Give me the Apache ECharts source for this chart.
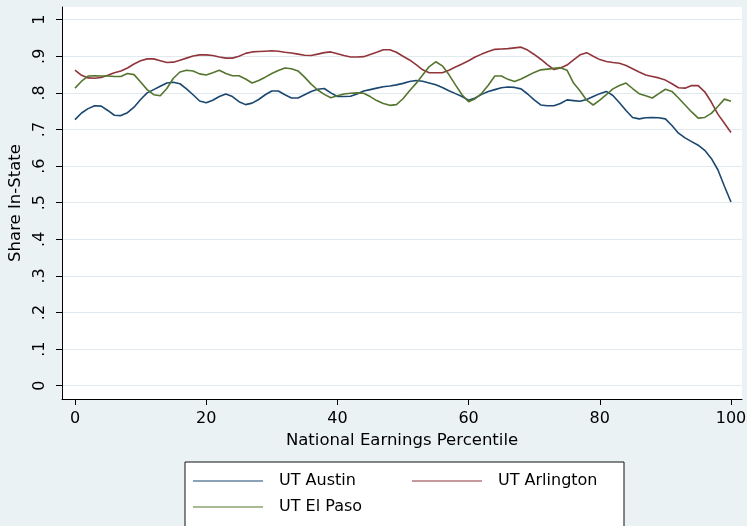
<!DOCTYPE html>
<html>
<head>
<meta charset="utf-8">
<script src="https://cdn.jsdelivr.net/npm/echarts@6/dist/echarts.min.js"></script>
<style>
  html, body { margin: 0; padding: 0; background: #eaf2f3; }
  #chart { width: 747px; height: 526px; }
</style>
</head>
<body>
<div id="chart"></div>
<script>
// National earnings percentile, 0..100
const percentiles = Array.from({ length: 101 }, (_, i) => i);

// Share of graduates staying in-state, by percentile
const utAustin = [
  .727, .745, .757, .765, .764, .752, .739, .738, .746, .761,
  .782, .800, .809, .818, .827, .829, .825, .811, .795, .778,
  .773, .780, .790, .797, .790, .776, .768, .772, .782, .795,
  .805, .805, .795, .786, .786, .795, .804, .810, .812, .800,
  .790, .790, .791, .797, .805, .809, .813, .817, .819, .822,
  .826, .831, .834, .832, .827, .822, .815, .806, .798, .790,
  .780, .786, .796, .804, .809, .814, .816, .815, .811, .797,
  .781, .767, .765, .765, .771, .781, .779, .777, .782, .790,
  .798, .804, .793, .773, .752, .733, .729, .732, .733, .732,
  .729, .711, .690, .677, .667, .657, .643, .621, .590, .545,
  .502
];

const utArlington = [
  .862, .848, .841, .840, .842, .848, .855, .860, .868, .879,
  .888, .893, .893, .888, .883, .884, .889, .895, .901, .904,
  .904, .902, .898, .895, .895, .900, .908, .912, .913, .914,
  .915, .914, .911, .909, .906, .903, .902, .906, .910, .912,
  .907, .902, .898, .898, .899, .905, .911, .918, .918, .911,
  .900, .890, .877, .863, .855, .855, .855, .862, .871, .879,
  .888, .898, .906, .913, .919, .920, .921, .923, .925, .917,
  .905, .892, .877, .864, .868, .876, .890, .904, .910, .900,
  .891, .886, .883, .881, .875, .866, .857, .849, .845, .841,
  .835, .825, .814, .813, .820, .820, .803, .775, .742, .717,
  .692
];

const utElPaso = [
  .813, .832, .846, .847, .846, .846, .845, .845, .853, .850,
  .830, .809, .795, .792, .812, .840, .857, .862, .860, .852,
  .849, .855, .862, .853, .847, .847, .838, .827, .834, .843,
  .853, .861, .868, .866, .860, .843, .824, .808, .796, .787,
  .792, .797, .799, .800, .799, .790, .779, .771, .766, .768,
  .784, .806, .826, .849, .872, .885, .874, .850, .822, .795,
  .776, .784, .799, .821, .846, .846, .837, .831, .838, .847,
  .856, .863, .865, .867, .869, .862, .827, .805, .780, .767,
  .780, .795, .811, .820, .827, .812, .798, .792, .786, .798,
  .810, .804, .786, .767, .748, .731, .733, .744, .763, .783,
  .777
];

// Tick positions
const xTicks = [0, 20, 40, 60, 80, 100];
const yTicks = [0, 0.1, 0.2, 0.3, 0.4, 0.5, 0.6, 0.7, 0.8, 0.9, 1];

const pairs = (vals) => percentiles.map((p, i) => [p, vals[i]]);

const font = 'DejaVu Sans, sans-serif';
const axisColor = '#000';

const chart = echarts.init(document.getElementById('chart'), null, { renderer: 'canvas' });

chart.setOption({
  backgroundColor: '#eaf2f3',
  animation: false,
  textStyle: { fontFamily: font },
  grid: {
    left: 62, top: 7, width: 680, height: 392,
    show: true, backgroundColor: '#ffffff', borderWidth: 0,
    containLabel: false,
    outerBoundsMode: 'none'
  },
  xAxis: {
    type: 'value',
    min: -1.98, max: 101.68,
    name: 'National Earnings Percentile',
    nameLocation: 'middle',
    nameGap: 29,
    nameTextStyle: { fontSize: 16.5, color: '#000', fontFamily: font },
    axisLine: { show: true, onZero: false, lineStyle: { color: axisColor, width: 1 } },
    axisTick: { show: true, length: 6, customValues: xTicks, lineStyle: { color: axisColor } },
    axisLabel: { customValues: xTicks, margin: 12, fontSize: 16, color: '#000', fontFamily: font },
    splitLine: { show: false }
  },
  yAxis: {
    type: 'value',
    min: -0.0363, max: 1.0347,
    name: 'Share In-State',
    nameLocation: 'middle',
    nameGap: 33,
    nameRotate: 90,
    nameTextStyle: { fontSize: 16.5, color: '#000', fontFamily: font },
    axisLine: { show: true, onZero: false, lineStyle: { color: axisColor, width: 1 } },
    axisTick: { show: true, length: 6, customValues: yTicks, lineStyle: { color: axisColor } },
    axisLabel: {
      customValues: yTicks,
      rotate: 90,
      margin: 14,
      fontSize: 16,
      color: '#000',
      fontFamily: font,
      formatter: (v) => {
        const r = Math.round(v * 10) / 10;
        if (r === 0) return '0';
        if (r === 1) return '1';
        return '.' + Math.round(r * 10);
      }
    },
    splitLine: { show: true, lineStyle: { color: '#e1eaee', width: 1 } }
  },
  legend: {
    left: 185, top: 462,
    orient: 'horizontal',
    width: 428,
    backgroundColor: '#ffffff',
    borderColor: '#111',
    borderWidth: 1,
    borderRadius: 0,
    padding: [11, 3, 30, 8],
    itemWidth: 70,
    itemHeight: 14,
    itemGap: 10,
    icon: 'path://M0,6.5L70,6.5L70,7.5L0,7.5Z',
    textStyle: { fontSize: 16, color: '#000', fontFamily: font, width: 123, lineHeight: 16, padding: [0, 0, 0, 11] },
    data: ['UT Austin', 'UT Arlington', 'UT El Paso']
  },
  series: [
    {
      name: 'UT Austin', type: 'line', data: pairs(utAustin),
      showSymbol: false, symbol: 'none', smooth: false,
      lineStyle: { color: '#1a476f', width: 1.6 }, itemStyle: { color: '#1a476f' }
    },
    {
      name: 'UT Arlington', type: 'line', data: pairs(utArlington),
      showSymbol: false, symbol: 'none', smooth: false,
      lineStyle: { color: '#90353b', width: 1.6 }, itemStyle: { color: '#90353b' }
    },
    {
      name: 'UT El Paso', type: 'line', data: pairs(utElPaso),
      showSymbol: false, symbol: 'none', smooth: false,
      lineStyle: { color: '#55752f', width: 1.6 }, itemStyle: { color: '#55752f' }
    }
  ]
});
</script>
</body>
</html>
